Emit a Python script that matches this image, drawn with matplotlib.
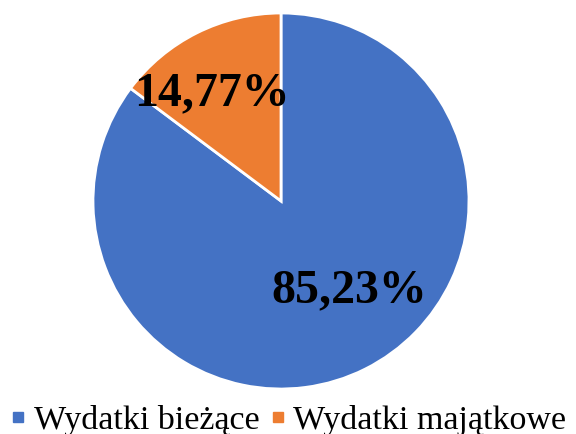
import matplotlib.pyplot as plt
import numpy as np

# dane
labels = ['Wydatki bieżące', 'Wydatki majątkowe']
values = [85.23, 14.77]
pct_labels = ['85,23%', '14,77%']
colors = ['#4472C4', '#ED7D31']

plt.rcParams['font.family'] = ['Liberation Serif', 'DejaVu Serif']

fig = plt.figure(figsize=(5.76, 4.35), dpi=100)
ax = fig.add_axes([93 / 576, 45 / 435, 376 / 576, 376 / 435])

wedges, _ = ax.pie(values, colors=colors, startangle=90, counterclock=False,
                   radius=1, wedgeprops=dict(edgecolor='white', linewidth=2))
ax.set_xlim(-1, 1)
ax.set_ylim(-1, 1)
ax.set_aspect('equal')

# etykiety procentowe (pozycje)
label_pos = [(0.365, -0.47), (-0.365, 0.58)]
for txt, (x, y) in zip(pct_labels, label_pos):
    ax.text(x, y, txt, ha='center', va='center', fontsize=34.5,
            fontweight='bold', color='black')

handles = [plt.Line2D([], [], marker='s', linestyle='none', markersize=6.5,
                      markerfacecolor=c, markeredgecolor=c) for c in colors]
fig.legend(handles, labels, loc='center', ncol=2, frameon=False,
           fontsize=24.5, bbox_to_anchor=(0.5, 14 / 435), handletextpad=0.2,
           columnspacing=0.3, handlelength=0.5, borderpad=0, borderaxespad=0)

fig.savefig('out.png', dpi=100)
